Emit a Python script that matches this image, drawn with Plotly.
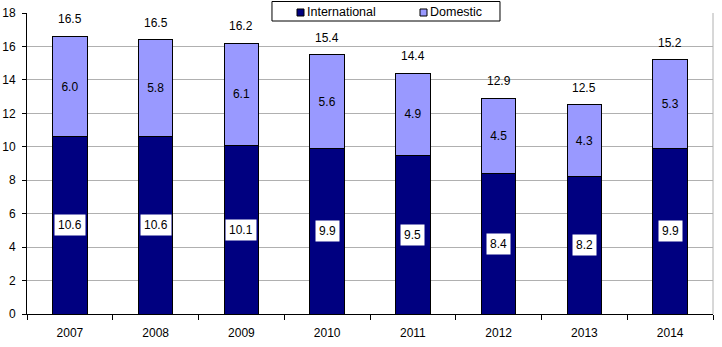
import plotly.graph_objects as go

years = ["2007", "2008", "2009", "2010", "2011", "2012", "2013", "2014"]
international = [10.6, 10.6, 10.1, 9.9, 9.5, 8.4, 8.2, 9.9]
domestic = [6.0, 5.8, 6.1, 5.6, 4.9, 4.5, 4.3, 5.3]
totals = [16.5, 16.5, 16.2, 15.4, 14.4, 12.9, 12.5, 15.2]
y_ticks = [0, 2, 4, 6, 8, 10, 12, 14, 16, 18]
series_names = ["International", "Domestic"]
series_colors = ["#000080", "#9999FF"]

FONT = "Liberation Sans, Arial, sans-serif"

fig = go.Figure()
fig.add_trace(go.Bar(
    x=years, y=international, name=series_names[0],
    marker=dict(color=series_colors[0], line=dict(color="black", width=1)),
    width=0.4,
))
fig.add_trace(go.Bar(
    x=years, y=domestic, name=series_names[1],
    marker=dict(color=series_colors[1], line=dict(color="black", width=1)),
    width=0.4,
    text=[f"{v:.1f}" for v in domestic], textposition="inside",
    insidetextanchor="middle", textangle=0,
    textfont=dict(color="black", size=12, family=FONT),
))

for i, (iv, dv, tv) in enumerate(zip(international, domestic, totals)):
    fig.add_annotation(x=i, y=iv / 2, text=f"{iv:.1f}", showarrow=False,
                       bgcolor="white", borderpad=3,
                       font=dict(color="black", size=12, family=FONT))
    fig.add_annotation(x=i, y=iv + dv, text=f"{tv:.1f}", showarrow=False,
                       yshift=17, font=dict(color="black", size=12, family=FONT))

# right border of plot area
fig.add_shape(type="line", xref="paper", yref="paper", x0=1, x1=1, y0=0, y1=1,
              line=dict(color="#B0B0B0", width=1))

# legend box drawn by hand (matches the small square swatches of the original)
fig.add_shape(type="rect", xref="paper", yref="paper", layer="above",
              x0=0.3571, x1=0.6895, y0=0.9734, y1=1.0382,
              fillcolor="white", line=dict(color="black", width=1))
sw_x = [0.3936, 0.5729]
txt_x = [0.4052, 0.5845]
for name, col, sx, tx in zip(series_names, series_colors, sw_x, txt_x):
    fig.add_shape(type="rect", xref="paper", yref="paper", layer="above",
                  x0=sx, x1=sx + 0.0102, y0=0.9900, y1=1.0133,
                  fillcolor=col, line=dict(color="black", width=1))
    fig.add_annotation(xref="paper", yref="paper", x=tx, y=1.0017, text=name,
                       showarrow=False, xanchor="left", yanchor="middle",
                       font=dict(color="black", size=12.5, family=FONT))

fig.update_layout(
    barmode="stack",
    width=722, height=347,
    margin=dict(l=27, r=9, t=13, b=33, autoexpand=False),
    paper_bgcolor="white", plot_bgcolor="white",
    font=dict(family=FONT, size=12, color="black"),
    showlegend=False,
    xaxis=dict(type="category", range=[-0.5, 7.5], showline=True, linecolor="black",
               linewidth=1, ticks="outside", ticklen=5, tickcolor="black",
               tickson="boundaries", showgrid=False, tickangle=0,
               ticklabelstandoff=8),
    yaxis=dict(range=[0, 18], tickvals=y_ticks, showline=True, linecolor="black",
               linewidth=1, ticks="outside", ticklen=4, tickcolor="black",
               showgrid=True, gridcolor="#B0B0B0", gridwidth=1, zeroline=False,
               ticklabelstandoff=4),
)

fig.write_html("out.html")
